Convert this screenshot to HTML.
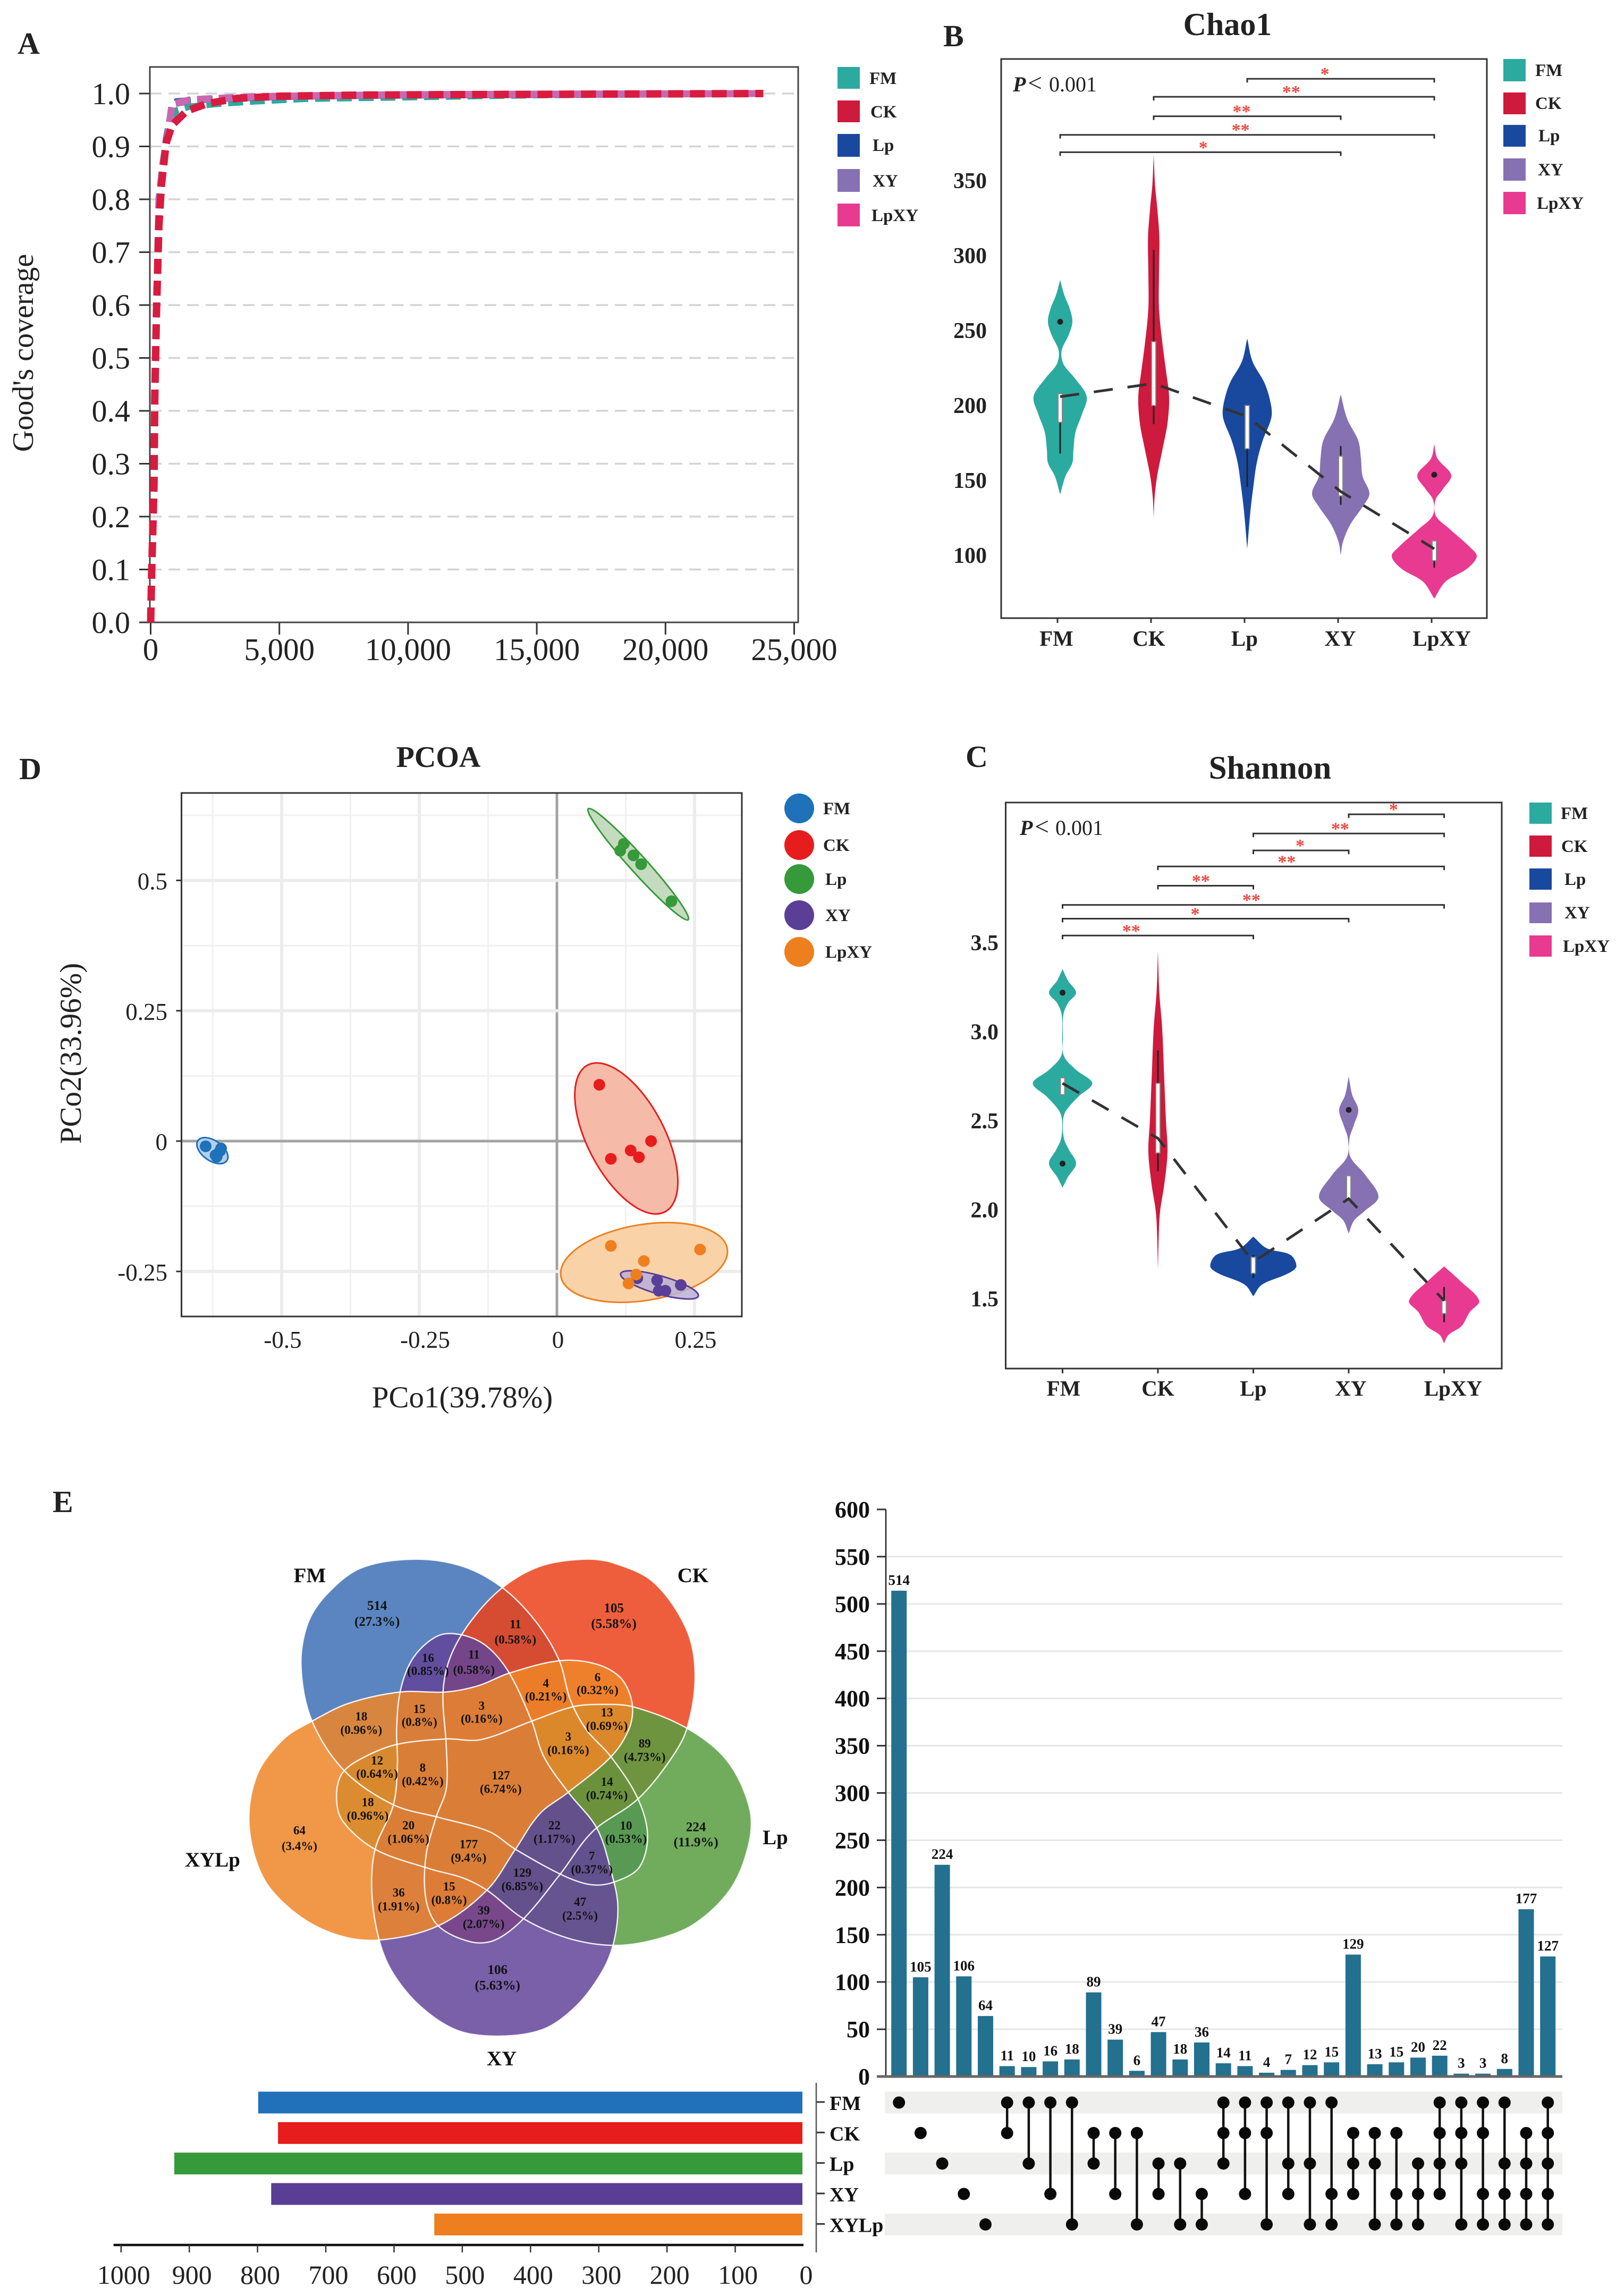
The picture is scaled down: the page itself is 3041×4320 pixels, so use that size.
<!DOCTYPE html>
<html lang="en">
<head>
<meta charset="utf-8">
<title>Microbial diversity figure</title>
<style>
html,body{margin:0;padding:0;background:#fff}
svg{display:block;font-family:"Liberation Serif",serif}
.b{font-weight:bold}
</style>
</head>
<body>
<svg id="figure" xmlns="http://www.w3.org/2000/svg" width="3041" height="4320" viewBox="0 0 3041 4320">
<rect x="0" y="0" width="3041" height="4320" fill="#fff"/>

<!-- Panel A -->
<g>
<text class="b" x="33" y="101" font-size="58" fill="#222">A</text>
<text x="0" y="0" transform="translate(62,664) rotate(-90)" text-anchor="middle" font-size="56" fill="#222">Good's coverage</text>
<g id="coverage-plot"></g>
<rect x="282" y="126" width="1220" height="1045" fill="none" stroke="#444" stroke-width="3"/>
<g id="coverage-lines"></g>
<g font-size="33" font-weight="bold" fill="#222">
<rect x="1576" y="126" width="42" height="41" fill="#2BAAA0"/><text x="1636" y="158">FM</text>
<rect x="1576" y="189" width="42" height="41" fill="#CE1A3C"/><text x="1638" y="221">CK</text>
<rect x="1576" y="252" width="42" height="43" fill="#19499F"/><text x="1642" y="284">Lp</text>
<rect x="1576" y="318" width="42" height="43" fill="#8671B3"/><text x="1642" y="351">XY</text>
<rect x="1576" y="383" width="42" height="43" fill="#E83A90"/><text x="1640" y="416">LpXY</text>
</g>
</g>

<!-- Panel B -->
<g>
<text class="b" x="1775" y="87" font-size="58" fill="#222">B</text>
<text class="b" x="2310" y="66" text-anchor="middle" font-size="60" fill="#222">Chao1</text>
<rect x="1884" y="111" width="914" height="1052" fill="#fff" stroke="#333" stroke-width="3"/>
<text y="172" font-size="40" fill="#222"><tspan x="1906" font-weight="bold" font-style="italic">P</tspan><tspan x="1934" font-size="48">&lt;</tspan><tspan x="1974">0.001</tspan></text>
<g id="chao-plot"></g>
<g font-size="33" font-weight="bold" fill="#222">
<rect x="2829" y="111" width="42" height="42" fill="#2BAAA0"/><text x="2889" y="143">FM</text>
<rect x="2829" y="174" width="42" height="41" fill="#CE1A3C"/><text x="2889" y="205">CK</text>
<rect x="2829" y="235" width="42" height="41" fill="#19499F"/><text x="2895" y="266">Lp</text>
<rect x="2829" y="298" width="42" height="42" fill="#8671B3"/><text x="2894" y="330">XY</text>
<rect x="2829" y="361" width="42" height="42" fill="#E83A90"/><text x="2892" y="393">LpXY</text>
</g>
</g>

<!-- Panel D -->
<g>
<text class="b" x="36" y="1466" font-size="58" fill="#222">D</text>
<text class="b" x="825" y="1443" text-anchor="middle" font-size="56" fill="#222">PCOA</text>
<g id="pcoa-plot"></g>
<rect x="341.5" y="1492" width="1054.5" height="985" fill="none" stroke="#333" stroke-width="3"/>
<text x="870" y="2648" text-anchor="middle" font-size="57" fill="#222">PCo1(39.78%)</text>
<text x="0" y="0" transform="translate(152,1982) rotate(-90)" text-anchor="middle" font-size="57" fill="#222">PCo2(33.96%)</text>
<g font-size="33" font-weight="bold" fill="#222">
<circle cx="1504" cy="1521" r="28" fill="#1F71BA"/><text x="1549" y="1532">FM</text>
<circle cx="1504" cy="1590" r="28" fill="#E71D1D"/><text x="1549" y="1601">CK</text>
<circle cx="1504" cy="1654" r="28" fill="#36993A"/><text x="1553" y="1665">Lp</text>
<circle cx="1504" cy="1722" r="28" fill="#5B3F96"/><text x="1553" y="1733">XY</text>
<circle cx="1504" cy="1791" r="28" fill="#EE7F1F"/><text x="1553" y="1802">LpXY</text>
</g>
</g>

<!-- Panel C -->
<g>
<text class="b" x="1817" y="1443" font-size="58" fill="#222">C</text>
<text class="b" x="2390" y="1465" text-anchor="middle" font-size="61" fill="#222">Shannon</text>
<rect x="1892.5" y="1510" width="933.5" height="1065" fill="#fff" stroke="#333" stroke-width="3"/>
<text y="1571" font-size="40" fill="#222"><tspan x="1919" font-weight="bold" font-style="italic">P</tspan><tspan x="1947" font-size="48">&lt;</tspan><tspan x="1986">0.001</tspan></text>
<g id="shannon-plot"></g>
<g font-size="33" font-weight="bold" fill="#222">
<rect x="2878" y="1510" width="42" height="40" fill="#2BAAA0"/><text x="2937" y="1541">FM</text>
<rect x="2878" y="1572" width="42" height="40" fill="#CE1A3C"/><text x="2938" y="1603">CK</text>
<rect x="2878" y="1634" width="42" height="40" fill="#19499F"/><text x="2944" y="1665">Lp</text>
<rect x="2878" y="1698" width="42" height="39" fill="#8671B3"/><text x="2944" y="1728">XY</text>
<rect x="2878" y="1760" width="42" height="40" fill="#E83A90"/><text x="2941" y="1791">LpXY</text>
</g>
</g>

<!-- Panel E -->
<g>
<text class="b" x="99" y="2845" font-size="58" fill="#222">E</text>
<g id="venn"></g>
<g font-size="39" font-weight="bold" fill="#111">
<text x="583" y="2977" text-anchor="middle">FM</text>
<text x="1304" y="2977" text-anchor="middle">CK</text>
<text x="1459" y="3470" text-anchor="middle">Lp</text>
<text x="452" y="3512" text-anchor="end">XYLp</text>
<text x="944" y="3886" text-anchor="middle">XY</text>
</g>
<g id="upset-bars"></g>
<g id="upset-matrix"></g>
<g id="set-bars"></g>
</g>

<script>
/* ---------- Panel A data ---------- */
const coverageSeriesNames = ['FM', 'Lp', 'XY', 'LpXY', 'CK'];
const coverageDepthFM   = [0, 40, 130, 160, 230, 320, 420, 600, 830, 1000, 1500, 2500, 4000, 6000, 10000, 15000, 23800];
const coverageValueFM   = [0, .093, .26, .427, .593, .75, .83, .91, .95, .968, .975, .98, .985, .99, .993, .997, 1];
const coverageDepthLp   = [0, 40, 130, 160, 230, 320, 420, 600, 830, 1000, 1500, 2500, 4000, 6000, 10000, 15000, 23800];
const coverageValueLp   = [0, .093, .26, .427, .593, .75, .83, .915, .975, .985, .987, .99, .992, .995, .997, .998, 1];
const coverageDepthXY   = [0, 40, 130, 160, 230, 320, 480, 715, 830, 1500, 2500, 4000, 6000, 10000, 15000, 23800];
const coverageValueXY   = [0, .093, .26, .427, .6, .8, .87, .94, .98, .986, .99, .993, .995, .997, .998, 1];
const coverageDepthLpXY = [0, 40, 130, 160, 230, 320, 480, 715, 830, 1500, 2500, 4000, 6000, 10000, 15000, 23800];
const coverageValueLpXY = [0, .093, .26, .427, .6, .79, .865, .935, .98, .988, .991, .994, .996, .998, .999, 1];
const coverageDepthCK   = [0, 40, 130, 160, 230, 320, 420, 600, 830, 1400, 2200, 3360, 5000, 8000, 12000, 18000, 23800];
const coverageValueCK   = [0, .093, .26, .427, .593, .75, .827, .906, .94, .967, .981, .991, .995, .997, .998, .999, 1];
const coverageYTicks = [0, .1, .2, .3, .4, .5, .6, .7, .8, .9, 1];
const coverageYTickLabels = ['0.0','0.1','0.2','0.3','0.4','0.5','0.6','0.7','0.8','0.9','1.0'];
const coverageXTicks = [0, 5000, 10000, 15000, 20000, 25000];
const coverageXTickLabels = ['0','5,000','10,000','15,000','20,000','25,000'];

/* ---------- Panel B data ---------- */
const groupNames = ['FM', 'CK', 'Lp', 'XY', 'LpXY'];
const chaoYTicks = [100, 150, 200, 250, 300, 350];
const chaoMean = [205.9, 214.7, 192.6, 142.6, 104.4];
const chaoQ1 = [188.8, 200, 171.2, 139.7, 96.5];
const chaoQ3 = [207.9, 242.6, 200, 166.2, 109.7];
const chaoLow = [168, 187.6, 145.6, 133.8, 91.8];
const chaoHigh = [207.9, 303.8, 200, 172.9, 109.7];
const chaoOutlierGroup = [0, 4];
const chaoOutlierValue = [255.9, 153.8];
const chaoDensityValueFM = [283.8,273.5,264.7,255.9,247,238.2,232.4,226.5,217.6,205.9,194.1,182.4,170.6,161.8,152.9,140.6];
const chaoDensityFM = [0,8,18,23,16,4,2.5,8,29,50,41,29,25,23,10,0];
const chaoDensityValueCK = [367.6,347.1,332.4,311.8,288.2,264.7,241.2,223.5,205.9,188.2,170.6,152.9,138.2,125];
const chaoDensityCK = [0,2.5,6.5,10.7,10,10,16.5,23,29,26,16.5,6.5,1.6,0];
const chaoDensityValueLp = [244.7,229.4,214.7,200,191.2,176.5,161.8,147.1,129.4,104.4];
const chaoDensityLp = [0,10,33,45,45,29,18,12,6,0];
const chaoDensityValueXY = [207.4,191.2,176.5,164.7,152.9,141.2,132.4,120.6,108.8,100];
const chaoDensityXY = [0,12,33,38,41,54,41,18,4,0];
const chaoDensityValueLpXY = [174.1,164.7,153.5,144.1,136.8,126.5,117.6,105.9,99.4,91.2,82.4,71.2];
const chaoDensityLpXY = [0,6,32,16,2,3,29,66,80,62,21,0];
const chaoBracketFrom = [2, 1, 1, 0, 0];
const chaoBracketTo = [4, 4, 3, 4, 3];
const chaoBracketLevel = [418, 406, 393, 380.6, 369];
const chaoBracketStars = ['*', '**', '**', '**', '*'];
const chaoStarPosition = [2.83, 2.47, 1.94, 1.93, 1.53];

/* ---------- Panel C data ---------- */
const shannonYTicks = [1.5, 2, 2.5, 3, 3.5];
const shannonYTickLabels = ['1.5','2.0','2.5','3.0','3.5'];
const shannonMean = [2.711, 2.402, 1.708, 2.063, 1.49];
const shannonQ1 = [2.647, 2.32, 1.644, 2.063, 1.418];
const shannonQ3 = [2.742, 2.711, 1.734, 2.192, 1.49];
const shannonLow = [2.647, 2.217, 1.618, 2.063, 1.369];
const shannonHigh = [2.742, 2.896, 1.747, 2.192, 1.567];
const shannonOutlierGroup = [0, 0, 3];
const shannonOutlierValue = [3.22, 2.26, 2.562];
const shannonDensityValueFM = [3.353,3.289,3.22,3.161,3.096,2.968,2.865,2.788,2.711,2.634,2.557,2.505,2.402,2.338,2.261,2.184,2.125];
const shannonDensityFM = [0,10,25.5,10,1.6,.8,2.5,25,56,29,6.5,1,2.5,12,25.5,10,0];
const shannonDensityValueCK = [3.456,3.225,3.019,2.762,2.505,2.325,2.145,1.991,1.862,1.662];
const shannonDensityCK = [0,2.5,8,11.5,15,18,12,4,1.6,0];
const shannonDensityValueLp = [1.85,1.785,1.747,1.683,1.644,1.58,1.515];
const shannonDensityLp = [0,25,70,81,66,16,0];
const shannonDensityValueXY = [2.749,2.647,2.562,2.479,2.402,2.299,2.197,2.073,1.991,1.94,1.868];
const shannonDensityXY = [0,6.5,18,10,1.6,3,31,56,29,10,0];
const shannonDensityValueLpXY = [1.683,1.605,1.49,1.425,1.348,1.297,1.251];
const shannonDensityLpXY = [0,29,66,48,33,8,0];
const shannonBracketFrom = [3, 2, 2, 1, 1, 0, 0, 0];
const shannonBracketTo = [4, 4, 3, 4, 2, 4, 3, 2];
const shannonBracketLevel = [4.222, 4.114, 4.019, 3.929, 3.821, 3.713, 3.636, 3.541];
const shannonBracketStars = ['*', '**', '*', '**', '**', '**', '*', '**'];
const shannonStarPosition = [3.47, 2.91, 2.49, 2.35, 1.45, 1.98, 1.39, .72];

/* ---------- Panel D data ---------- */
const pcoaXTicks = [-0.5, -0.25, 0, 0.25];
const pcoaXTickLabels = ['-0.5', '-0.25', '0', '0.25'];
const pcoaYTicks = [0.5, 0.25, 0, -0.25];
const pcoaYTickLabels = ['0.5', '0.25', '0', '-0.25'];
const pcoaMinorX = [-0.625, -0.375, -0.125, 0.125];
const pcoaMinorY = [0.625, 0.375, 0.125, -0.125];
const pcoaFMx = [-.638, -.61, -.618, -.612, -.62];
const pcoaFMy = [-.01, -.014, -.03, -.019, -.027];
const pcoaCKx = [.077, .171, .134, .149, .098];
const pcoaCKy = [.108, 0, -.018, -.031, -.034];
const pcoaLpx = [.1215, .115, .139, .153, .208];
const pcoaLpy = [.57, .557, .548, .531, .46];
const pcoaXYx = [.146, .182, .225, .185, .197];
const pcoaXYy = [-.263, -.267, -.276, -.287, -.287];
const pcoaLpXYx = [.098, .158, .26, .144, .13];
const pcoaLpXYy = [-.201, -.23, -.208, -.256, -.273];
/* ellipse order: FM, CK, Lp, LpXY, XY */
const ellipseCenterX = [-.6258, .1261, .1477, .1583, .1863];
const ellipseCenterY = [-.0183, .0051, .531, -.2328, -.2758];
const ellipseMajor = [.0319, .1506, .1356, .1532, .0734];
const ellipseMinor = [.0183, .0699, .0154, .0689, .0164];
const ellipseAngle = [35, 62.2, 48, -9.4, 16];

/* ---------- Panel E data ---------- */
const vennCounts = ['514','105','11','16','11','4','6','18','15','3','13','89','3','12','8','127','14','18','20','22','10','224','177','7','64','129','15','36','47','39','106'];
const vennPercents = ['(27.3%)','(5.58%)','(0.58%)','(0.85%)','(0.58%)','(0.21%)','(0.32%)','(0.96%)','(0.8%)','(0.16%)','(0.69%)','(4.73%)','(0.16%)','(0.64%)','(0.42%)','(6.74%)','(0.74%)','(0.96%)','(1.06%)','(1.17%)','(0.53%)','(11.9%)','(9.4%)','(0.37%)','(3.4%)','(6.85%)','(0.8%)','(1.91%)','(2.5%)','(2.07%)','(5.63%)'];
const upsetValues = [514,105,224,106,64,11,10,16,18,89,39,6,47,18,36,14,11,4,7,12,15,129,13,15,20,22,3,3,8,177,127];
const upsetYTicks = [0,50,100,150,200,250,300,350,400,450,500,550,600];
const upsetMembership = [[0],[1],[2],[3],[4],[0,1],[0,2],[0,3],[0,4],[1,2],[1,3],[1,4],[2,3],[2,4],[3,4],[0,1,2],[0,1,3],[0,1,4],[0,2,3],[0,2,4],[0,3,4],[1,2,3],[1,2,4],[1,3,4],[2,3,4],[0,1,2,3],[0,1,2,4],[0,1,3,4],[0,2,3,4],[1,2,3,4],[0,1,2,3,4]];
const setNames = ['FM', 'CK', 'Lp', 'XY', 'XYLp'];
const setSizes = [799, 770, 922, 780, 541];
const setSizeTicks = [1000, 900, 800, 700, 600, 500, 400, 300, 200, 100, 0];

/* ---------- Layout and styling (not data) ---------- */
const NS = 'http://www.w3.org/2000/svg';
const violinColors = ['#2BAAA0', '#CE1A3C', '#19499F', '#8671B3', '#E83A90'];
const setColors = ['#2071B9', '#E71C1C', '#379A3A', '#5A3E95', '#EE7E1E'];

function mk(tag, attrs, parent, text) {
  const el = document.createElementNS(NS, tag);
  for (const k in attrs) el.setAttribute(k, attrs[k]);
  if (text !== undefined) el.textContent = text;
  parent.appendChild(el);
  return el;
}
function segment(p0, p1, p2, p3) {
  const dist = (a, b) => Math.hypot(a[0] - b[0], a[1] - b[1]);
  const d1 = dist(p0, p1), d2 = dist(p1, p2) || 1, d3 = dist(p2, p3);
  const k = d2 / 3;
  const c1x = p1[0] + (p2[0] - p0[0]) / (d1 + d2) * k, c1y = p1[1] + (p2[1] - p0[1]) / (d1 + d2) * k;
  const c2x = p2[0] - (p3[0] - p1[0]) / (d2 + d3) * k, c2y = p2[1] - (p3[1] - p1[1]) / (d2 + d3) * k;
  return 'C' + c1x.toFixed(1) + ' ' + c1y.toFixed(1) + ' ' + c2x.toFixed(1) + ' ' + c2y.toFixed(1) + ' ' + p2[0].toFixed(1) + ' ' + p2[1].toFixed(1);
}
function openCurve(pts, move) {
  let d = move ? 'M' + pts[0][0].toFixed(1) + ' ' + pts[0][1].toFixed(1) : '';
  for (let i = 0; i < pts.length - 1; i++) {
    d += segment(pts[Math.max(i - 1, 0)], pts[i], pts[i + 1], pts[Math.min(i + 2, pts.length - 1)]);
  }
  return d;
}
function closedCurve(pts) {
  const n = pts.length;
  let d = 'M' + pts[0][0].toFixed(1) + ' ' + pts[0][1].toFixed(1);
  for (let i = 0; i < n; i++) {
    d += segment(pts[(i - 1 + n) % n], pts[i], pts[(i + 1) % n], pts[(i + 2) % n]);
  }
  return d + 'Z';
}

/* ---------- Panel A drawing ---------- */
(function drawCoverage() {
  const grid = document.getElementById('coverage-plot');
  const lines = document.getElementById('coverage-lines');
  const xA = d => 283.5 + d * 0.04844;
  const yA = v => 1171 - v * 995;
  coverageYTicks.forEach((v, i) => {
    if (v > 0) {
      const g = mk('line', {x1: 282, x2: 1502, y1: yA(v), y2: yA(v), stroke: '#d4d4d4', 'stroke-width': 3.5, 'stroke-dasharray': '22 13'}, grid);
      
      
    }
    const t = mk('line', {x1: 262, x2: 282, y1: yA(v), y2: yA(v), stroke: '#333', 'stroke-width': 3}, grid);
    
    
    const l = mk('text', {x: 245, y: yA(v) + 20, 'text-anchor': 'end', 'font-size': 58, fill: '#222'}, grid, coverageYTickLabels[i]);
    
    
  });
  coverageXTicks.forEach((d, i) => {
    const t = mk('line', {x1: xA(d), x2: xA(d), y1: 1171, y2: 1194, stroke: '#333', 'stroke-width': 3}, grid);
    
    
    const l = mk('text', {x: xA(d), y: 1242, 'text-anchor': 'middle', 'font-size': 59, fill: '#222'}, grid, coverageXTickLabels[i]);
    
    
  });
  const seriesDepth = [coverageDepthFM, coverageDepthLp, coverageDepthXY, coverageDepthLpXY, coverageDepthCK];
  const seriesValue = [coverageValueFM, coverageValueLp, coverageValueXY, coverageValueLpXY, coverageValueCK];
  const seriesColor = ['#2BAAA0', '#19599F', '#8671B3', '#C868B0', '#D81B3F'];
  const seriesWidth = [12, 12, 13, 13, 14];
  coverageSeriesNames.forEach((n, s) => {
    const pts = seriesDepth[s].map((d, i) => xA(d).toFixed(1) + ',' + yA(seriesValue[s][i]).toFixed(1)).join(' ');
    const p = mk('polyline', {points: pts, fill: 'none', stroke: seriesColor[s], 'stroke-width': seriesWidth[s], 'stroke-dasharray': '28 13', 'stroke-linejoin': 'round'}, lines);
    
    
  });
})();

/* ---------- Violin panels ---------- */
function drawViolins(root, cfg) {
  const xC = i => cfg.x0 + i * cfg.step;
  cfg.yTicks.forEach((v, i) => {
    const l = mk('text', {x: cfg.yLabelRight, y: cfg.y(v) + 14, 'text-anchor': 'end', 'font-size': 42, 'font-weight': 'bold', fill: '#222'}, root, cfg.yLabels[i]);
    
    
  });
  groupNames.forEach((name, i) => {
    const t = mk('line', {x1: xC(i) + cfg.tickShift, x2: xC(i) + cfg.tickShift, y1: cfg.bottom, y2: cfg.bottom + 9, stroke: '#333', 'stroke-width': 3}, root);
    
    
    const l = mk('text', {x: xC(i) + cfg.labelNudge[i], y: cfg.labelY, 'text-anchor': 'middle', 'font-size': 41, 'font-weight': 'bold', fill: '#222'}, root, name);
    
    
  });
  cfg.densityValues.forEach((vals, i) => {
    const right = vals.map((v, k) => [xC(i) + cfg.densities[i][k], cfg.y(v)]);
    const left = vals.map((v, k) => [xC(i) - cfg.densities[i][k], cfg.y(v)]).reverse();
    const shape = mk('path', {d: openCurve(right, true) + openCurve(left, false) + 'Z', fill: violinColors[i]}, root);
    
    
    const w = mk('line', {x1: xC(i), x2: xC(i), y1: cfg.y(cfg.high[i]), y2: cfg.y(cfg.low[i]), stroke: '#222', 'stroke-width': 3}, root);
    
    
    const b = mk('rect', {x: xC(i) - 4, y: cfg.y(cfg.q3[i]), width: 8, height: cfg.y(cfg.q1[i]) - cfg.y(cfg.q3[i]), fill: '#fff', stroke: '#888', 'stroke-width': 2}, root);
    
    
  });
  cfg.outlierGroup.forEach((g, i) => {
    const c = mk('circle', {cx: xC(g), cy: cfg.y(cfg.outlierValue[i]), r: 5.5, fill: '#222'}, root);
    
    
  });
  const mean = mk('polyline', {points: cfg.mean.map((v, i) => xC(i) + ',' + cfg.y(v)).join(' '), fill: 'none', stroke: '#333', 'stroke-width': 5, 'stroke-dasharray': '36 28'}, root);
  
  
  cfg.brFrom.forEach((from, i) => {
    const yb = cfg.y(cfg.brLevel[i]);
    const x1 = xC(from), x2 = xC(cfg.brTo[i]);
    const br = mk('path', {d: 'M' + x1 + ' ' + (yb + 7) + 'V' + yb + 'H' + x2 + 'V' + (yb + 7), fill: 'none', stroke: '#333', 'stroke-width': 3}, root);
    
    
    const st = mk('text', {x: xC(cfg.starPos[i]), y: yb + cfg.starDrop, 'text-anchor': 'middle', 'font-size': 34, 'font-weight': 'bold', fill: '#F0463C'}, root, cfg.stars[i]);
    
    
  });
}
drawViolins(document.getElementById('chao-plot'), {
  x0: 1995, step: 176, tickShift: -5, bottom: 1163, labelY: 1215, yLabelRight: 1857,
  labelNudge: [-7, -9, -5, -1, 14], starDrop: 2,
  y: v => 1045 - (v - 100) * 2.82,
  yTicks: chaoYTicks, yLabels: chaoYTicks.map(String),
  densityValues: [chaoDensityValueFM, chaoDensityValueCK, chaoDensityValueLp, chaoDensityValueXY, chaoDensityValueLpXY],
  densities: [chaoDensityFM, chaoDensityCK, chaoDensityLp, chaoDensityXY, chaoDensityLpXY],
  mean: chaoMean, q1: chaoQ1, q3: chaoQ3, low: chaoLow, high: chaoHigh,
  outlierGroup: chaoOutlierGroup, outlierValue: chaoOutlierValue,
  brFrom: chaoBracketFrom, brTo: chaoBracketTo, brLevel: chaoBracketLevel, stars: chaoBracketStars, starPos: chaoStarPosition
});
drawViolins(document.getElementById('shannon-plot'), {
  x0: 1999.5, step: 179.5, tickShift: 0, bottom: 2575, labelY: 2626, yLabelRight: 1879,
  labelNudge: [2, 0, 0, 4, 17], starDrop: 2,
  y: v => 2444 - (v - 1.5) * 335,
  yTicks: shannonYTicks, yLabels: shannonYTickLabels,
  densityValues: [shannonDensityValueFM, shannonDensityValueCK, shannonDensityValueLp, shannonDensityValueXY, shannonDensityValueLpXY],
  densities: [shannonDensityFM, shannonDensityCK, shannonDensityLp, shannonDensityXY, shannonDensityLpXY],
  mean: shannonMean, q1: shannonQ1, q3: shannonQ3, low: shannonLow, high: shannonHigh,
  outlierGroup: shannonOutlierGroup, outlierValue: shannonOutlierValue,
  brFrom: shannonBracketFrom, brTo: shannonBracketTo, brLevel: shannonBracketLevel, stars: shannonBracketStars, starPos: shannonStarPosition
});

/* ---------- Panel D drawing ---------- */
(function drawPcoa() {
  const root = document.getElementById('pcoa-plot');
  const xD = v => 1048 + v * 1036;
  const yD = v => 2147 - v * 981;
  const left = 341.5, right = 1396, top = 1492, bottom = 2477;
  pcoaMinorX.forEach(v => {
    const g = mk('line', {x1: xD(v), x2: xD(v), y1: top, y2: bottom, stroke: '#f1f1f1', 'stroke-width': 3}, root);
    
    
  });
  pcoaMinorY.forEach(v => {
    const g = mk('line', {x1: left, x2: right, y1: yD(v), y2: yD(v), stroke: '#f1f1f1', 'stroke-width': 3}, root);
    
    
  });
  pcoaXTicks.forEach((v, i) => {
    const g = mk('line', {x1: xD(v), x2: xD(v), y1: top, y2: bottom, stroke: v === 0 ? '#a3a3a3' : '#ececec', 'stroke-width': v === 0 ? 5 : 6}, root);
    
    
    const l = mk('text', {x: xD(v) + (i === 1 ? 11 : 2), y: 2536, 'text-anchor': 'middle', 'font-size': 45, fill: '#222'}, root, pcoaXTickLabels[i]);
    
    
  });
  pcoaYTicks.forEach((v, i) => {
    const g = mk('line', {x1: left, x2: right, y1: yD(v), y2: yD(v), stroke: v === 0 ? '#a3a3a3' : '#ececec', 'stroke-width': v === 0 ? 5 : 6}, root);
    
    
    const t = mk('line', {x1: left - 10, x2: left, y1: yD(v), y2: yD(v), stroke: '#333', 'stroke-width': 3}, root);
    
    
    const l = mk('text', {x: 315, y: yD(v) + 17, 'text-anchor': 'end', 'font-size': 45, fill: '#222'}, root, pcoaYTickLabels[i]);
    
    
  });
  const ellFill = ['#B5CFE8', '#F6BBA8', '#C5DBBF', '#FAD2A8', '#B9B0D8'];
  const ellStroke = ['#1F71BA', '#E71D1D', '#36993A', '#EE7F1F', '#5B3F96'];
  ellipseCenterX.forEach((cx, i) => {
    const px = xD(cx), py = yD(ellipseCenterY[i]);
    const e = mk('ellipse', {cx: px, cy: py, rx: ellipseMajor[i] * 1036, ry: ellipseMinor[i] * 1036, fill: ellFill[i], stroke: ellStroke[i], 'stroke-width': 3, 'fill-opacity': i === 4 ? .85 : 1, transform: 'rotate(' + ellipseAngle[i] + ' ' + px + ' ' + py + ')'}, root);
    
    
  });
  const sx = [pcoaFMx, pcoaCKx, pcoaLpx, pcoaXYx, pcoaLpXYx];
  const sy = [pcoaFMy, pcoaCKy, pcoaLpy, pcoaXYy, pcoaLpXYy];
  const ptColor = ['#1F71BA', '#E71D1D', '#36993A', '#5B3F96', '#EE7F1F'];
  sx.forEach((xs, s) => {
    xs.forEach((v, k) => {
      const c = mk('circle', {cx: xD(v), cy: yD(sy[s][k]), r: 11, fill: ptColor[s]}, root);
      
      
    });
  });
})();

/* ---------- Venn drawing ---------- */
(function drawVenn() {
  const root = document.getElementById('venn');
  const vx = z => 350 + z / 1.3067;
  const vy = z => 2850 + z / 1.4933;
  const outlineFM = [[283,430],[298,310],[345,225],[430,150],[560,125],[680,145],[778,205],[860,300],[918,410],[945,520],[985,605],[1045,680],[1110,795],[1135,900],[1115,990],[1058,1030],[1000,1040],[930,1015],[810,940],[745,890],[620,850],[510,815],[390,720],[310,580]];
  const outlineCK = [[778,205],[700,300],[650,400],[632,500],[640,650],[640,770],[615,850],[590,960],[590,1080],[620,1155],[700,1200],[760,1195],[830,1135],[920,1010],[1000,890],[1110,800],[1190,690],[1232,600],[1252,450],[1230,320],[1150,190],[1050,135],[975,125],[870,145]];
  const outlineLp = [[1232,600],[1330,690],[1385,820],[1385,920],[1340,1050],[1250,1150],[1150,1195],[1050,1210],[940,1190],[830,1135],[740,1055],[680,1020],[600,995],[465,940],[385,860],[370,790],[385,725],[440,680],[520,645],[640,630],[725,632],[850,580],[950,540],[1020,533],[1100,540]];
  const outlineXY = [[475,1195],[510,1290],[580,1385],[670,1450],[775,1465],[880,1445],[960,1380],[1020,1290],[1050,1210],[1062,1100],[1045,1000],[1010,880],[940,780],[880,680],[850,580],[795,445],[740,370],[680,338],[620,340],[560,400],[528,490],[518,600],[520,700],[510,815],[465,940],[457,1060]];
  const outlineXYLp = [[310,580],[400,530],[528,498],[640,498],[720,480],[795,445],[920,410],[1010,420],[1070,460],[1097,530],[1090,600],[1045,680],[940,780],[870,840],[810,940],[740,1055],[620,1155],[475,1195],[370,1180],[270,1120],[190,1020],[155,870],[175,730],[240,630]];
  const outlines = [outlineFM, outlineCK, outlineLp, outlineXY, outlineXYLp];
  const fills = ['#3D70B5', '#EB421A', '#589E40', '#634499', '#EE8628'];
  const ds = outlines.map(o => closedCurve(o.map(p => [vx(p[0]), vy(p[1])])));
  ds.forEach((d, i) => {
    const p = mk('path', {d: d, fill: fills[i], 'fill-opacity': .85}, root);
    
    
  });
  ds.forEach(d => {
    const p = mk('path', {d: d, fill: 'none', stroke: '#fff', 'stroke-width': 2.5, 'stroke-opacity': .9}, root);
    
    
  });
  const anchorX = [470,1052,810,595,708,885,1012,431,574,727,1035,1128,940,470,582,774,1035,447,547,906,1082,1254,695,998,279,827,647,523,969,732,766];
  const anchorY1 = [255,262,307,402,392,473,456,566,545,536,555,642,623,690,710,732,750,807,872,872,873,877,925,958,886,1005,1044,1061,1087,1111,1278];
  const anchorY2 = [300,306,350,438,435,510,492,604,582,573,593,680,661,727,748,770,788,845,910,910,910,920,963,996,930,1043,1082,1100,1126,1149,1322];
  const large = ['514','105','224','106'];
  vennCounts.forEach((c, i) => {
    const big = large.indexOf(c) >= 0;
    const fs = big ? 25 : 23;
    const a = mk('text', {x: vx(anchorX[i]), y: vy(anchorY1[i]) + 8, 'text-anchor': 'middle', 'font-size': fs, 'font-weight': 'bold', fill: '#111'}, root, c);
    
    
    const b = mk('text', {x: vx(anchorX[i]), y: vy(anchorY2[i]) + 8, 'text-anchor': 'middle', 'font-size': fs, 'font-weight': 'bold', fill: '#111'}, root, vennPercents[i]);
    
    
  });
})();

/* ---------- UpSet drawing ---------- */
const upsetX = i => 1691.7 + i * 40.7;
const upsetY = v => 3907 - v * 1.7783;
const rowY = r => 3956 + r * 57.35;
(function drawUpsetBars() {
  const root = document.getElementById('upset-bars');
  upsetYTicks.forEach(v => {
    if (v > 0 && v < 600) {
      const g = mk('line', {x1: 1667, x2: 2940, y1: upsetY(v), y2: upsetY(v), stroke: '#e6e6e6', 'stroke-width': 3}, root);
      
      
    }
    const t = mk('line', {x1: 1650, x2: 1667, y1: upsetY(v), y2: upsetY(v), stroke: '#333', 'stroke-width': 3}, root);
    
    
    const l = mk('text', {x: 1637, y: upsetY(v) + 15, 'text-anchor': 'end', 'font-size': 44, 'font-weight': 'bold', fill: '#111'}, root, String(v));
    
    
  });
  const axis = mk('line', {x1: 1667, x2: 1667, y1: 2840, y2: 3907, stroke: '#222', 'stroke-width': 2.5}, root);
  
  
  upsetValues.forEach((v, i) => {
    const r = mk('rect', {x: upsetX(i) - 14.5, y: upsetY(v), width: 29, height: 3907 - upsetY(v), fill: '#23708F'}, root);
    
    
    const l = mk('text', {x: upsetX(i), y: upsetY(v) - 11, 'text-anchor': 'middle', 'font-size': 27, 'font-weight': 'bold', fill: '#111'}, root, String(v));
    
    
  });
  const base = mk('line', {x1: 1650, x2: 2940, y1: 3907, y2: 3907, stroke: '#666', 'stroke-width': 5}, root);
  
  
})();
(function drawUpsetMatrix() {
  const root = document.getElementById('upset-matrix');
  setNames.forEach((n, r) => {
    if (r % 2 === 0) {
      const s = mk('rect', {x: 1665, y: rowY(r) - 20.5, width: 1275, height: 41, fill: '#EFEFEE'}, root);
      
      
    }
  });
  upsetMembership.forEach((sets, i) => {
    if (sets.length > 1) {
      const c = mk('line', {x1: upsetX(i), x2: upsetX(i), y1: rowY(sets[0]), y2: rowY(sets[sets.length - 1]), stroke: '#111', 'stroke-width': 4.5}, root);
      
      
    }
    sets.forEach(r => {
      const d = mk('circle', {cx: upsetX(i), cy: rowY(r), r: 11.5, fill: '#0a0a0a'}, root);
      
      
    });
  });
})();
(function drawSetBars() {
  const root = document.getElementById('set-bars');
  const setX = v => 1512 - v * 1.2842;
  setSizes.forEach((v, r) => {
    const b = mk('rect', {x: setX(v), y: rowY(r) - 20.5, width: 1510 - setX(v), height: 41, fill: setColors[r]}, root);
    
    
    const t = mk('line', {x1: 1536, x2: 1552, y1: rowY(r) - 1, y2: rowY(r) - 1, stroke: '#333', 'stroke-width': 3}, root);
    
    
    const l = mk('text', {x: 1561, y: rowY(r) + 14, 'font-size': 38, 'font-weight': 'bold', fill: '#111'}, root, setNames[r]);
    
    
  });
  const v = mk('line', {x1: 1536, x2: 1536, y1: 3919, y2: 4238, stroke: '#555', 'stroke-width': 2.5}, root);
  
  
  const h = mk('line', {x1: 213.6, x2: 1512, y1: 4224, y2: 4224, stroke: '#111', 'stroke-width': 4.5}, root);
  
  
  setSizeTicks.forEach(val => {
    if (val > 0) {
      const t = mk('line', {x1: setX(val), x2: setX(val), y1: 4224, y2: 4238, stroke: '#333', 'stroke-width': 2.5}, root);
      
      
    }
    const l = mk('text', {x: setX(val) + 5, y: 4297, 'text-anchor': 'middle', 'font-size': 50, fill: '#222'}, root, String(val));
    
    
  });
})();
</script>
</svg>
</body>
</html>
